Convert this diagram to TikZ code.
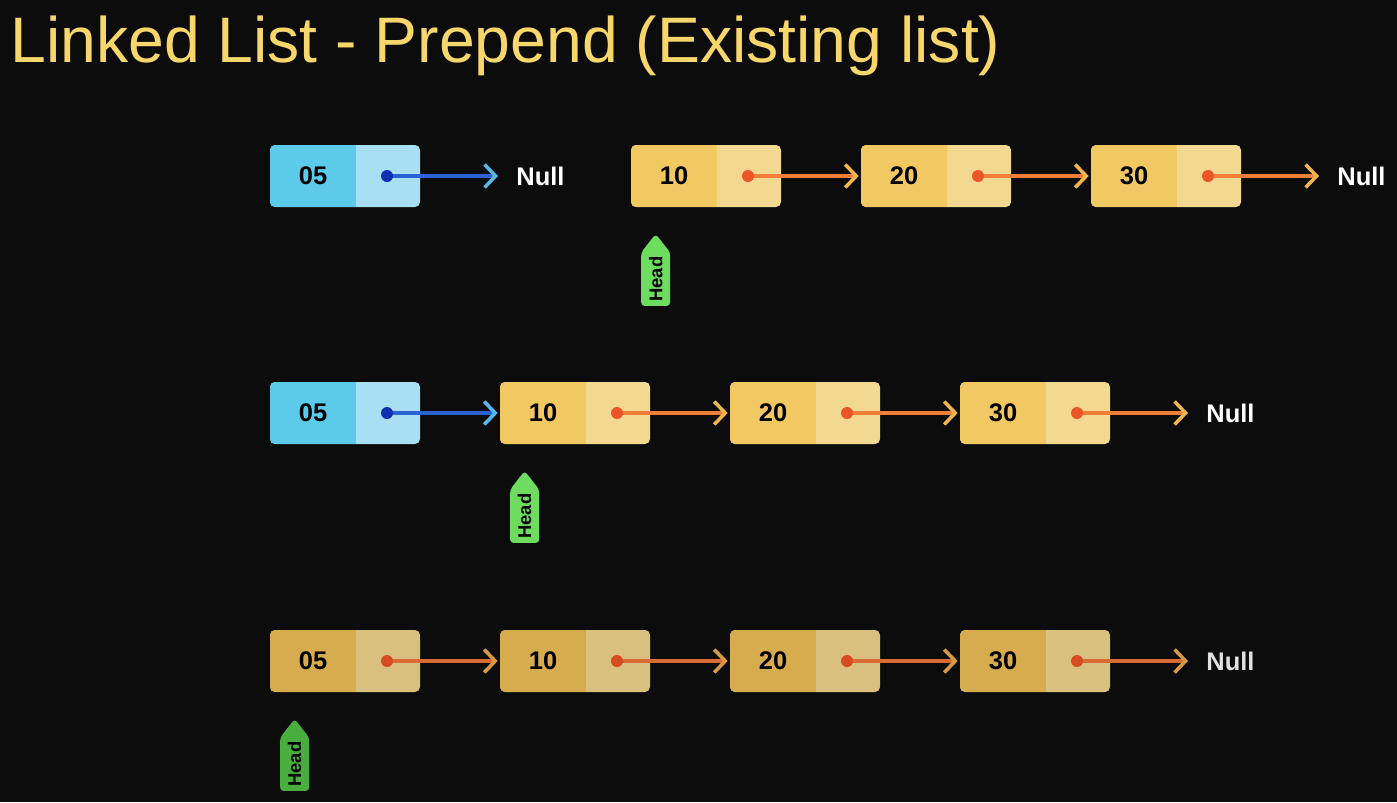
\documentclass[tikz,border=0pt]{standalone}
\usepackage{fontspec}
\setmainfont{Liberation Sans}
\usetikzlibrary{arrows.meta,shapes.symbols}

\definecolor{bgcol}{HTML}{0C0C0C}
\definecolor{titlecol}{HTML}{F7D66B}
\definecolor{bluedata}{HTML}{5CCBEA}
\definecolor{blueptr}{HTML}{A9DFF2}
\definecolor{bluedot}{HTML}{0F2FB4}
\definecolor{blueline}{HTML}{2A62D6}
\definecolor{bluetip}{HTML}{56B8F0}
\definecolor{yeldata}{HTML}{F2C862}
\definecolor{yelptr}{HTML}{F2D891}
\definecolor{yeldot}{HTML}{EC5528}
\definecolor{yelline}{HTML}{EE7E38}
\definecolor{yeltip}{HTML}{F2B64E}
\definecolor{fadedata}{HTML}{D7AC4F}
\definecolor{fadeptr}{HTML}{DAC07E}
\definecolor{fadedot}{HTML}{D64B22}
\definecolor{fadeline}{HTML}{D86C32}
\definecolor{fadetip}{HTML}{D89A45}
\definecolor{tagbright}{HTML}{6EDC5E}
\definecolor{tagfade}{HTML}{4AAE3E}

\newcommand{\val}[1]{\makebox[1.72cm]{#1}}

\tikzset{
  listnode/.style={rectangle, rounded corners=0.1cm, minimum height=1.24cm,
    text width=3cm, inner xsep=0pt, inner ysep=0pt, align=left, text=black,
    font=\bfseries\fontsize{14.5}{14.5}\selectfont},
  bluenode/.style={listnode, fill=blueptr, path picture={\fill[bluedata, sharp corners]
    (path picture bounding box.south west) rectangle ([xshift=1.72cm]path picture bounding box.north west);}},
  yelnode/.style={listnode, fill=yelptr, path picture={\fill[yeldata, sharp corners]
    (path picture bounding box.south west) rectangle ([xshift=1.72cm]path picture bounding box.north west);}},
  fadenode/.style={listnode, fill=fadeptr, path picture={\fill[fadedata, sharp corners]
    (path picture bounding box.south west) rectangle ([xshift=1.72cm]path picture bounding box.north west);}},
  nulltext/.style={anchor=west, inner sep=0pt, text=white, font=\bfseries\fontsize{14.5}{14.5}\selectfont},
  link/.style={line width=0.07cm, shorten >=0.04cm},
  bluelink/.style={link, blueline, -{Straight Barb[length=0.22cm, width=0.46cm, line width=0.07cm, color=bluetip]}},
  yellink/.style={link, yelline, -{Straight Barb[length=0.22cm, width=0.46cm, line width=0.07cm, color=yeltip]}},
  fadelink/.style={link, fadeline, -{Straight Barb[length=0.22cm, width=0.46cm, line width=0.07cm, color=fadetip]}},
  headtag/.style={shape=signal, signal to=east, signal pointer angle=76, rotate=90, anchor=east,
    minimum width=1.44cm, minimum height=0.58cm, inner xsep=1pt, inner ysep=0pt,
    rounded corners=0.07cm, text=black, font=\bfseries\fontsize{10.5}{10.5}\selectfont},
}

\begin{document}
\begin{tikzpicture}
%%Background
\useasboundingbox (0,0) rectangle (27.94,-16.04);
\fill[bgcol] (0,0) rectangle (27.94,-16.04);
%%Title
\node[anchor=base west, inner sep=0pt, text=titlecol, font=\fontsize{36.6}{36.6}\selectfont] (title) at (0.2,-1.24) {Linked List - Prepend (Existing list)};

%%New node and existing list
\node[bluenode] (b05a) at (6.9,-3.52) {\val{05}};
\node[nulltext] (nulla) at (10.32,-3.52) {Null};
\node[yelnode] (n10a) at (14.12,-3.52) {\val{10}};
\node[yelnode] (n20a) at (18.72,-3.52) {\val{20}};
\node[yelnode] (n30a) at (23.32,-3.52) {\val{30}};
\node[nulltext] (nullb) at (26.74,-3.52) {Null};
%%Links
\draw[bluelink, shorten >=0.36cm] ([xshift=0.84cm]b05a.center) -- (nulla.west);
\draw[yellink] ([xshift=0.84cm]n10a.center) -- (n20a.west);
\draw[yellink] ([xshift=0.84cm]n20a.center) -- (n30a.west);
\draw[yellink, shorten >=0.36cm] ([xshift=0.84cm]n30a.center) -- (nullb.west);
\fill[bluedot] ([xshift=0.84cm]b05a.center) circle (0.12cm);
\foreach \n in {n10a,n20a,n30a}
  \fill[yeldot] ([xshift=0.84cm]\n.center) circle (0.12cm);
%%Head
\node[headtag, fill=tagbright] (heada) at ([xshift=0.5cm,yshift=-0.52cm]n10a.south west) {Head};

%%New node linked in
\node[bluenode] (b05b) at (6.9,-8.26) {\val{05}};
\node[yelnode] (n10b) at (11.5,-8.26) {\val{10}};
\node[yelnode] (n20b) at (16.1,-8.26) {\val{20}};
\node[yelnode] (n30b) at (20.7,-8.26) {\val{30}};
\node[nulltext] (nullc) at (24.12,-8.26) {Null};
%%Links
\draw[bluelink] ([xshift=0.84cm]b05b.center) -- (n10b.west);
\draw[yellink] ([xshift=0.84cm]n10b.center) -- (n20b.west);
\draw[yellink] ([xshift=0.84cm]n20b.center) -- (n30b.west);
\draw[yellink, shorten >=0.36cm] ([xshift=0.84cm]n30b.center) -- (nullc.west);
\fill[bluedot] ([xshift=0.84cm]b05b.center) circle (0.12cm);
\foreach \n in {n10b,n20b,n30b}
  \fill[yeldot] ([xshift=0.84cm]\n.center) circle (0.12cm);
%%Head
\node[headtag, fill=tagbright] (headb) at ([xshift=0.5cm,yshift=-0.52cm]n10b.south west) {Head};

%%Head moved to new node
\node[fadenode] (f05) at (6.9,-13.22) {\val{05}};
\node[fadenode] (f10) at (11.5,-13.22) {\val{10}};
\node[fadenode] (f20) at (16.1,-13.22) {\val{20}};
\node[fadenode] (f30) at (20.7,-13.22) {\val{30}};
\node[nulltext, text=white!88!black] (nulld) at (24.12,-13.22) {Null};
%%Links
\draw[fadelink] ([xshift=0.84cm]f05.center) -- (f10.west);
\draw[fadelink] ([xshift=0.84cm]f10.center) -- (f20.west);
\draw[fadelink] ([xshift=0.84cm]f20.center) -- (f30.west);
\draw[fadelink, shorten >=0.36cm] ([xshift=0.84cm]f30.center) -- (nulld.west);
\foreach \n in {f05,f10,f20,f30}
  \fill[fadedot] ([xshift=0.84cm]\n.center) circle (0.12cm);
%%Head
\node[headtag, fill=tagfade] (headc) at ([xshift=0.5cm,yshift=-0.52cm]f05.south west) {Head};
\end{tikzpicture}
\end{document}
